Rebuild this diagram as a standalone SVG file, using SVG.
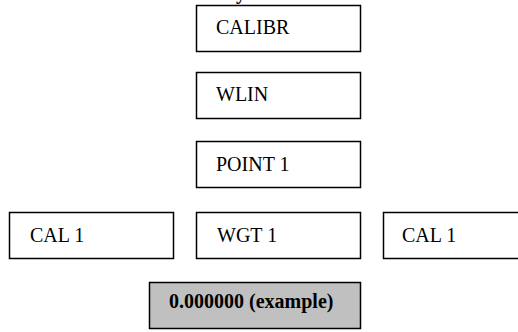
<svg xmlns="http://www.w3.org/2000/svg" width="518" height="332" viewBox="0 0 518 332">
<style>
.box{fill:#fff;stroke:#000;stroke-width:1.5}
.res{fill:#c0c0c0;stroke:#000;stroke-width:1.5}
.t{font-family:"Liberation Serif","Times New Roman",serif;font-size:20px;fill:#000}
.b{font-weight:bold}
</style>
<rect width="518" height="332" fill="#fff"/>
<text class="t b" x="236" y="-1.5">y</text>
<g id="calibr"><rect class="box" x="196.5" y="5.5" width="164" height="46"/><text class="t" x="216" y="33.5">CALIBR</text></g>
<g id="wlin"><rect class="box" x="196.5" y="72.5" width="164" height="46"/><text class="t" x="216" y="101">WLIN</text></g>
<g id="point1"><rect class="box" x="196.5" y="141.5" width="164" height="46"/><text class="t" x="216" y="171">POINT 1</text></g>
<g id="cal1left"><rect class="box" x="9.5" y="212.5" width="164" height="46"/><text class="t" x="30" y="242">CAL 1</text></g>
<g id="wgt1"><rect class="box" x="196.5" y="212.5" width="164" height="46"/><text class="t" x="217" y="242">WGT 1</text></g>
<g id="cal1right"><rect class="box" x="383.5" y="212.5" width="164" height="46"/><text class="t" x="402" y="242">CAL 1</text></g>
<g id="result"><rect class="res" x="149.5" y="282.5" width="211" height="46"/><text class="t b" x="169" y="307.5">0.000000 (example)</text></g>
<g id="connectors"></g>
</svg>
